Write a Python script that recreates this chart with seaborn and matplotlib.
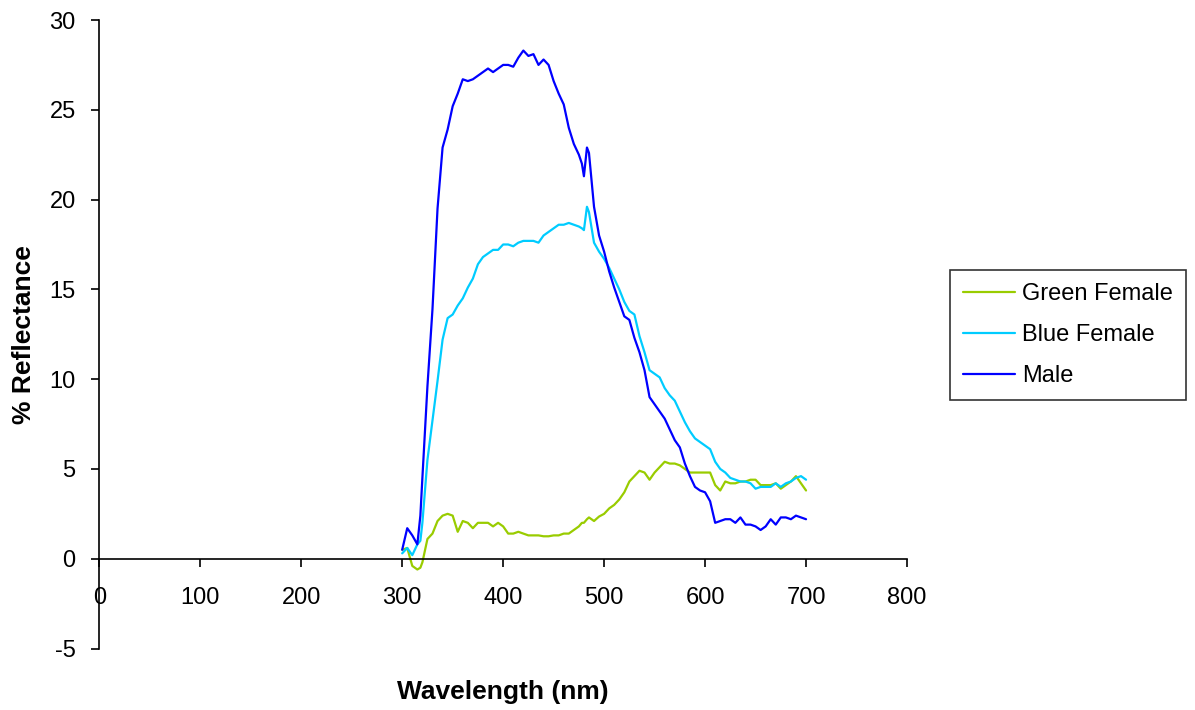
import numpy as np
import pandas as pd
import matplotlib
matplotlib.use('Agg')
import matplotlib.pyplot as plt
import seaborn as sns

# wavelength samples (nm)
wavelength = [300, 305, 310, 315, 318, 320, 325, 330, 335, 340, 345, 350, 355, 360,
              365, 370, 375, 380, 385, 390, 395, 400, 405, 410, 415, 420, 425, 430,
              435, 440, 445, 450, 455, 460, 465, 470, 475, 478, 480, 483, 485, 490,
              495, 500, 505, 510, 515, 520, 525, 530, 535, 540, 545, 550, 555, 560,
              565, 570, 575, 580, 585, 590, 595, 600, 605, 610, 615, 620, 625, 630,
              635, 640, 645, 650, 655, 660, 665, 670, 675, 680, 685, 690, 695, 700]

green_female = [0.5, 0.6, -0.4, -0.6, -0.5, -0.2, 1.1, 1.4, 2.1, 2.4, 2.5, 2.4, 1.5, 2.1,
                2.0, 1.7, 2.0, 2.0, 2.0, 1.8, 2.0, 1.8, 1.4, 1.4, 1.5, 1.4, 1.3, 1.3,
                1.3, 1.25, 1.25, 1.3, 1.3, 1.4, 1.4, 1.6, 1.8, 2.0, 2.0, 2.2, 2.3, 2.1,
                2.35, 2.5, 2.8, 3.0, 3.3, 3.7, 4.3, 4.6, 4.9, 4.8, 4.4, 4.8, 5.1, 5.4,
                5.3, 5.3, 5.2, 5.0, 4.8, 4.8, 4.8, 4.8, 4.8, 4.1, 3.8, 4.3, 4.2, 4.2,
                4.3, 4.3, 4.4, 4.4, 4.1, 4.1, 4.1, 4.2, 3.9, 4.1, 4.3, 4.6, 4.2, 3.8]

blue_female = [0.3, 0.6, 0.2, 0.8, 1.0, 2.0, 5.5, 7.7, 9.9, 12.2, 13.4, 13.6, 14.1, 14.5,
               15.1, 15.6, 16.4, 16.8, 17.0, 17.2, 17.2, 17.5, 17.5, 17.4, 17.6, 17.7, 17.7, 17.7,
               17.6, 18.0, 18.2, 18.4, 18.6, 18.6, 18.7, 18.6, 18.5, 18.4, 18.3, 19.6, 19.3, 17.6,
               17.1, 16.7, 16.2, 15.6, 15.0, 14.3, 13.8, 13.6, 12.4, 11.5, 10.5, 10.3, 10.1, 9.5,
               9.1, 8.8, 8.2, 7.6, 7.1, 6.7, 6.5, 6.3, 6.1, 5.4, 5.0, 4.8, 4.5, 4.4,
               4.3, 4.3, 4.2, 3.9, 4.0, 4.0, 4.0, 4.2, 4.0, 4.2, 4.3, 4.5, 4.6, 4.4]

male = [0.5, 1.7, 1.3, 0.8, 2.4, 4.5, 9.6, 13.9, 19.5, 22.9, 23.9, 25.2, 25.9, 26.7,
        26.6, 26.7, 26.9, 27.1, 27.3, 27.1, 27.3, 27.5, 27.5, 27.4, 27.9, 28.3, 28.0, 28.1,
        27.5, 27.8, 27.5, 26.6, 25.9, 25.3, 24.0, 23.1, 22.5, 22.0, 21.3, 22.9, 22.6, 19.6,
        18.0, 17.1, 16.0, 15.1, 14.3, 13.5, 13.3, 12.3, 11.5, 10.5, 9.0, 8.6, 8.2, 7.8,
        7.2, 6.6, 6.2, 5.3, 4.6, 4.0, 3.8, 3.7, 3.2, 2.0, 2.1, 2.2, 2.2, 2.0,
        2.3, 1.9, 1.9, 1.8, 1.6, 1.8, 2.2, 1.9, 2.3, 2.3, 2.2, 2.4, 2.3, 2.2]

series_names = ['Green Female', 'Blue Female', 'Male']
series_colors = ['#99cc00', '#00ccff', '#0000ff']

x_ticks = [0, 100, 200, 300, 400, 500, 600, 700, 800]
y_ticks = [-5, 0, 5, 10, 15, 20, 25, 30]

df = pd.concat([
    pd.DataFrame({'Wavelength': wavelength, 'Reflectance': vals, 'Series': name})
    for name, vals in zip(series_names, [green_female, blue_female, male])
])

sns.set_theme(style='white')
plt.rcParams['font.family'] = ['Liberation Sans', 'DejaVu Sans']
plt.rcParams['axes.unicode_minus'] = False
plt.rcParams['text.color'] = 'black'
plt.rcParams['axes.labelcolor'] = 'black'

fig = plt.figure(figsize=(11.95, 7.1), dpi=100)
ax = fig.add_axes([0.0831, 0.0866, 0.6759, 0.8852])

sns.lineplot(data=df, x='Wavelength', y='Reflectance', hue='Series',
             hue_order=series_names, palette=dict(zip(series_names, series_colors)),
             estimator=None, sort=False, linewidth=1.6, ax=ax)

ax.set_xlim(0, 800)
ax.set_ylim(-5, 30)
ax.set_xticks(x_ticks)
ax.set_yticks(y_ticks)

# Excel style: x axis crosses at y = 0
ax.spines['bottom'].set_position(('data', 0))
ax.spines['top'].set_visible(False)
ax.spines['right'].set_visible(False)
for s in ['left', 'bottom']:
    ax.spines[s].set_color('black')
    ax.spines[s].set_linewidth(1.2)

ax.tick_params(axis='x', direction='out', length=6, width=1.2, color='black',
               labelsize=17, pad=14, labelcolor='black', bottom=True)
ax.tick_params(axis='y', direction='out', length=6, width=1.2, color='black',
               labelsize=17, pad=11, labelcolor='black', left=True)

ax.set_xlabel('Wavelength (nm)', fontsize=19, fontweight='bold', color='black')
ax.set_ylabel('% Reflectance', fontsize=19, fontweight='bold', color='black')
ax.xaxis.set_label_coords(0.5, -0.05)
ax.yaxis.set_label_coords(-0.078, 0.5)

handles, labels = ax.get_legend_handles_labels()
ax.get_legend().remove()
leg = fig.legend(handles, labels, loc='upper left', bbox_to_anchor=(950 / 1195, (710 - 270) / 710),
                 fontsize=17, frameon=True, fancybox=False, edgecolor='black',
                 handlelength=2.2, handletextpad=0.3, labelspacing=0.8, borderpad=0.55,
                 borderaxespad=0)
leg.get_frame().set_linewidth(1.2)
for t in leg.get_texts():
    t.set_color('black')

plt.savefig('out.png', dpi=100)
plt.close()
